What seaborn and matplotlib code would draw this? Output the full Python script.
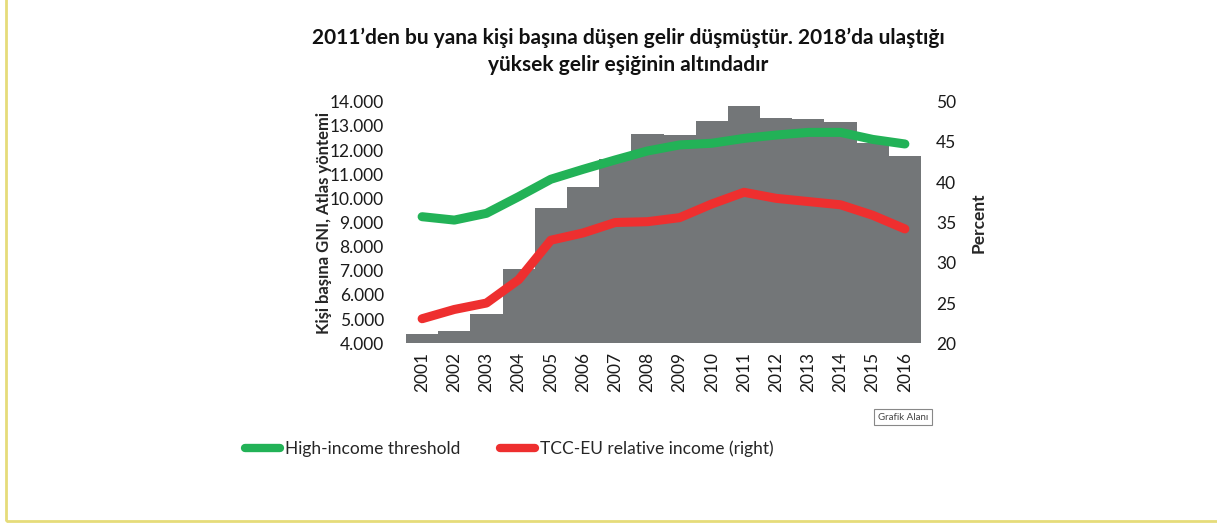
import matplotlib
matplotlib.use("Agg")
import matplotlib.pyplot as plt
import seaborn as sns
import pandas as pd
import numpy as np
from matplotlib.patches import Rectangle
from matplotlib.lines import Line2D

years = [str(y) for y in range(2001, 2017)]
gni_per_capita = [4370, 4510, 5230, 7060, 9590, 10490, 11640, 12670, 12620,
                  13190, 13810, 13330, 13290, 13180, 12300, 11770]
high_income_threshold = [9240, 9100, 9380, 10070, 10790, 11200, 11590, 11960,
                         12210, 12280, 12480, 12620, 12730, 12730, 12440, 12250]
tcc_eu_relative = [23.05, 24.2, 25.0, 27.9, 32.8, 33.7, 35.0, 35.1, 35.6,
                   37.3, 38.75, 38.0, 37.6, 37.2, 35.9, 34.2]
left_ticks = [4000, 5000, 6000, 7000, 8000, 9000, 10000, 11000, 12000, 13000, 14000]
right_ticks = [20, 25, 30, 35, 40, 45, 50]

title = "2011’den bu yana kişi başına düşen gelir düşmüştür. 2018’da ulaştığı\nyüksek gelir eşiğinin altındadır"

sns.set_theme(style="white")
FONT = ["Lato", "DejaVu Sans"]
plt.rcParams["font.family"] = FONT

fig = plt.figure(figsize=(12.17, 5.24), dpi=100)
ax = fig.add_axes([406/1217, 1-343.3/524, (921-406)/1217, (343.3-101.7)/524])

df = pd.DataFrame({"year": years, "gni": gni_per_capita,
                   "thr": high_income_threshold, "rel": tcc_eu_relative})
x = np.arange(len(years))
ax.bar(x, np.array(gni_per_capita) - 4000, bottom=4000, width=1.0,
       color="#737678", edgecolor="none", zorder=1)
sns.lineplot(x=x, y=df["thr"], ax=ax, color="#22b257", linewidth=6.5,
             solid_capstyle="round", zorder=3)
ax.set_xlim(-0.5, len(years) - 0.5)
ax.set_ylim(4000, 14000)
ax.set_yticks(left_ticks)
ax.set_yticklabels([f"{v:,}".replace(",", ".") for v in left_ticks], fontsize=12.5, color="#1a1a1a")
ax.set_xticks(x)
ax.set_xticklabels(years, rotation=90, fontsize=12.5, color="#1a1a1a")
ax.set_ylabel("Kişi başına GNI, Atlas yöntemi", fontsize=12, fontweight="bold", labelpad=-2)
ax.tick_params(axis="y", pad=16, length=0)
ax.tick_params(axis="x", pad=6, length=0)
for s in ax.spines.values():
    s.set_visible(False)

ax2 = ax.twinx()
sns.lineplot(x=x, y=df["rel"], ax=ax2, color="#ee2f2f", linewidth=6.5,
             solid_capstyle="round", zorder=3)
ax2.set_ylim(20, 50)
ax2.set_yticks(right_ticks)
ax2.set_yticklabels([str(v) for v in right_ticks], fontsize=12.5, color="#1a1a1a")
ax2.set_ylabel("Percent", fontsize=12.5, fontweight="bold", labelpad=10)
ax2.tick_params(axis="y", pad=11, length=0)
ax2.grid(False)
ax.grid(False)
for s in ax2.spines.values():
    s.set_visible(False)

fig.text(628/1217, 1-51/524, title, ha="center", va="center", fontsize=15,
         fontweight="bold", linespacing=1.45, color="#111111")

handles = [Line2D([0], [0], color="#22b257", lw=6, solid_capstyle="round"),
           Line2D([0], [0], color="#ee2f2f", lw=6, solid_capstyle="round")]
fig.legend(handles, ["High-income threshold", "TCC-EU relative income (right)"],
           loc="center left", bbox_to_anchor=(238/1217, 1-449/524), ncol=2,
           frameon=False, fontsize=12.5, handlelength=2.0, handletextpad=0.3,
           columnspacing=2.3, borderaxespad=0)

fig.text(903/1217, 1-417/524, "Grafik Alanı", ha="center", va="center", fontsize=7,
         color="#444444",
         bbox=dict(boxstyle="square,pad=0.35", fc="white", ec="#888888", lw=0.8))

fig.patches.append(Rectangle((5.5/1217, 1-520.5/524), 1.2, 1.2, transform=fig.transFigure,
                             fill=False, ec="#e6dc7a", lw=2, zorder=0))

fig.savefig("out.png", dpi=100, facecolor="white")
